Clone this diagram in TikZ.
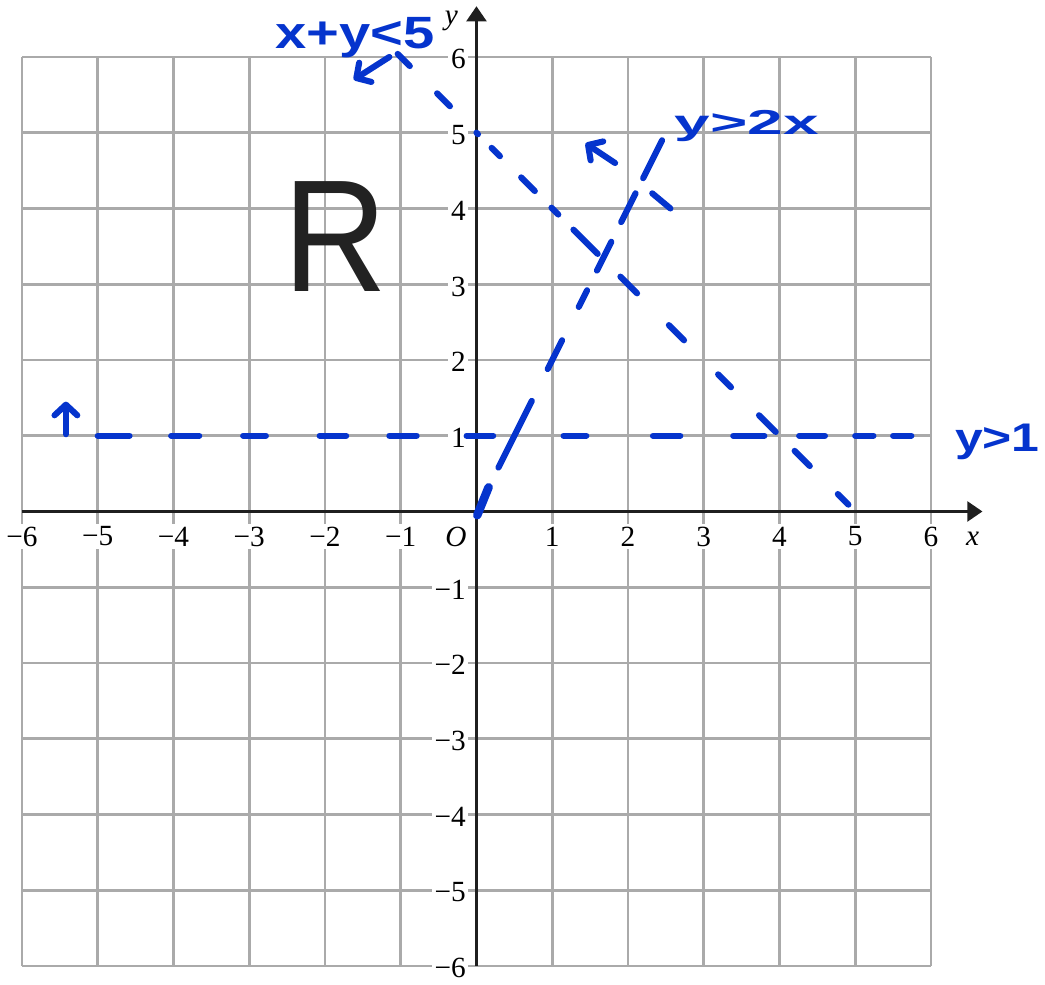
\documentclass[tikz,border=0pt]{standalone}
\usepackage{fontspec}
\usepackage{graphicx}
\setmainfont{Liberation Serif}
\newfontfamily\handfont{Liberation Sans}
\usetikzlibrary{arrows.meta}
\definecolor{penblue}{RGB}{5,52,205}
\definecolor{gridgray}{RGB}{170,170,170}
\definecolor{inkblack}{RGB}{34,34,34}
\begin{document}
\begin{tikzpicture}[
  gridline/.style={draw=gridgray, line width=1pt},
  axisline/.style={draw=black!88, line width=1.25pt, -{Triangle[length=0.2cm,width=0.26cm]}},
  ticklabel/.style={fill=white, inner sep=1pt, font=\fontsize{11}{13}\selectfont},
  axislabel/.style={font=\fontsize{11}{13}\selectfont\itshape, inner sep=0pt},
  hand/.style={draw=penblue, line width=2.3pt, line cap=round, line join=round},
  handarrow/.style={hand, -{Straight Barb[length=0.14cm,width=0.3cm,round]}},
  handtext/.style={text=penblue, inner sep=0pt, anchor=base west},
]
\useasboundingbox (-6.29,-6.238) rectangle (7.505,6.752);
% grid
\draw[gridline] (-6,-6) grid (6,6);
% tick labels
\foreach \i in {1,...,6} {
  \node[ticklabel] (xp\i) at (\i,-0.33) {\i};
  \node[ticklabel] (xn\i) at (-\i,-0.33) {−\i};
  \node[ticklabel, anchor=east] (yp\i) at (-0.1,{\i-0.03}) {\i};
  \node[ticklabel, anchor=east] (yn\i) at (-0.1,{-\i-0.03}) {−\i};
}
\node[axislabel] (orig) at (-0.27,-0.33) {O};
\node[axislabel] (xlab) at (6.55,-0.36) {x};
\node[axislabel] (ylab) at (-0.33,6.47) {y};
% axes
\coordinate (xs) at (-6,0);
\coordinate (xe) at (6.68,0);
\coordinate (ys) at (0,-6);
\coordinate (ye) at (0,6.67);
\draw[axisline] (xs) -- (xe);
\draw[axisline] (ys) -- (ye);
% y = 1 (dashed, hand drawn)
\foreach \a/\b in {-5.0/-4.58, -4.03/-3.66, -3.08/-2.78, -2.07/-1.72, -1.15/-0.79, -0.13/0.22, 1.15/1.45, 2.33/2.69, 3.39/3.8, 4.26/4.6, 5.0/5.24, 5.5/5.74}
  \draw[hand] (\a,1) -- (\b,1);
% y = 2x
\draw[hand, line width=3.2pt] (0.01,-0.05) -- (0.16,0.32);
\foreach \a/\b in {0.29/0.73, 0.94/1.13, 1.35/1.46, 1.59/1.78, 1.91/2.1, 2.2/2.45}
  \draw[hand] (\a,{2*(\a)}) -- (\b,{2*(\b)});
% x + y = 5
\foreach \a/\b in {-1.04/-0.88, -0.52/-0.35, 0/0.02, 0.2/0.31, 0.59/0.77, 0.99/1.08, 1.28/1.6, 1.9/2.12, 2.54/2.74, 3.19/3.36, 3.73/3.95, 4.2/4.4, 4.77/4.91}
  \draw[hand] (\a,{5-(\a)}) -- (\b,{5-(\b)});
\draw[hand] (2.32,4.2) -- (2.56,4.0);
% hand-drawn arrows
\coordinate (a1s) at (-5.42,1.02);
\coordinate (a1e) at (-5.42,1.45);
\draw[handarrow] (a1s) -- (a1e);
\coordinate (a2s) at (-1.15,6.0);
\coordinate (a2e) at (-1.62,5.7);
\draw[handarrow] (a2s) -- (a2e);
\coordinate (a3s) at (1.83,4.6);
\coordinate (a3e) at (1.44,4.86);
\draw[handarrow] (a3s) -- (a3e);
% hand-written labels
\node[handtext, font=\handfont\bfseries\fontsize{17}{17}\selectfont] (lab1) at (-2.66,6.11) {\scalebox{1.24}[1]{x+y<5}};
\node[handtext, font=\handfont\bfseries\fontsize{13}{13}\selectfont] (lab2) at (2.61,4.98) {\scalebox{1.85}[1]{y>2x}};
\node[handtext, font=\handfont\bfseries\fontsize{15}{15}\selectfont] (lab3) at (6.31,0.79) {\scalebox{1.25}[1]{y>1}};
\node[anchor=base west, inner sep=0pt, text=inkblack, font=\handfont\fontsize{60}{60}\selectfont] (R) at (-2.55,2.9) {\scalebox{0.9}[1]{R}};
\end{tikzpicture}
\end{document}
